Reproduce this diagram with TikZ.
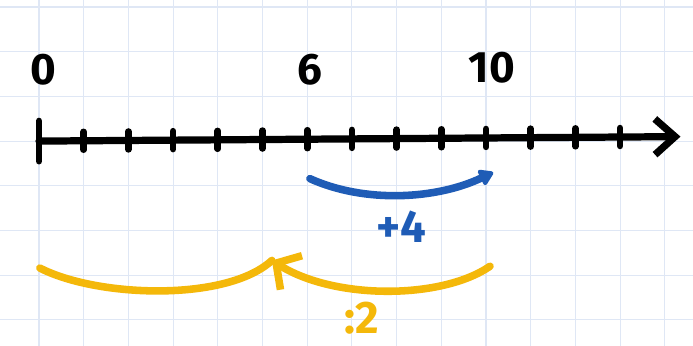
\documentclass[tikz,border=0pt]{standalone}
\usepackage{fontspec}
\setmainfont{Fira Sans}
\usepackage{tikz}
\usetikzlibrary{arrows.meta}
\usepackage{xcolor}
\definecolor{gridcol}{HTML}{DFE7F5}
\definecolor{jumpblue}{HTML}{1F5CB6}
\definecolor{jumpyellow}{HTML}{F4B80A}
\tikzset{
  % thick hand-drawn number line
  axisline/.style={line width=4.6pt, line cap=round, line join=round},
  % small vertical mark on the line
  tickmark/.style={line width=4.2pt, line cap=round},
  % numbers above the line
  numlabel/.style={font=\fontsize{28}{28}\selectfont\bfseries, inner sep=0pt},
  % coloured jump arc
  jump/.style={draw=#1, line width=4.8pt, line cap=round},
  jumplabel/.style={font=\fontsize{29}{29}\selectfont\bfseries, text=#1, inner sep=0pt},
}

\begin{document}
\begin{tikzpicture}
  \useasboundingbox (-0.872,-4.578) rectangle (14.63,3.156);
  \fill[white] (-0.872,-4.578) rectangle (14.63,3.156);
  \draw[gridcol,line width=0.7pt] (-0.872,-4.578) grid (14.63,3.156);

  % number line
  \coordinate (zero) at (0,0);
  \coordinate (tip) at (14.35,0.1);
  \draw[axisline,-{Straight Barb[length=0.45cm,width=0.8cm]}] (zero) -- (tip);
  \draw[tickmark] (0,-0.45) -- (0,0.45);
  \foreach \i in {1,...,13}
    \draw[tickmark] (\i,{0.007*\i-0.2}) -- (\i,{0.007*\i+0.2});

  \node[numlabel] (lab0) at (0.09,1.6) {0};
  \node[numlabel] (lab6) at (6.06,1.6) {6};
  \node[numlabel] (lab10) at (10.13,1.64) {10};

  % +4 jump
  \coordinate (bstart) at (6.06,-0.84);
  \coordinate (bend) at (10.16,-0.7);
  \draw[jump=jumpblue,-{Triangle[length=0.35cm,width=0.42cm,round]}]
    (bstart) .. controls (7.3,-1.4) and (8.9,-1.3) .. (bend);
  \node[jumplabel=jumpblue] (plus) at (8.1,-1.91) {+4};

  % :2 jump
  \coordinate (ystart) at (10.09,-2.8);
  \coordinate (yfive) at (5.21,-2.67);
  \coordinate (yzero) at (0.02,-2.84);
  \draw[jump=jumpyellow,-{Straight Barb[length=0.4cm,width=0.9cm]}]
    (ystart) .. controls (9.0,-3.55) and (6.6,-3.55) .. (yfive);
  \draw[jump=jumpyellow]
    (yzero) .. controls (1.3,-3.5) and (4.2,-3.6) .. (yfive);
  \node[jumplabel=jumpyellow] (half) at (7.23,-3.97) {:2};
\end{tikzpicture}
\end{document}
